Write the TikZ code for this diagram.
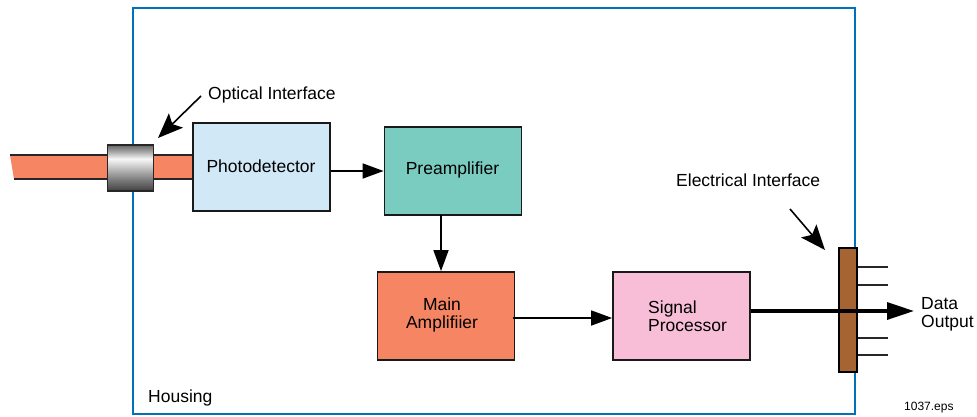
\documentclass[tikz,border=0pt]{standalone}
\usepackage{fontspec}
\setmainfont{Liberation Sans}
\usetikzlibrary{arrows.meta}
\definecolor{housingblue}{RGB}{0,114,188}
\definecolor{fiberorange}{RGB}{246,133,100}
\definecolor{pdblue}{RGB}{209,232,247}
\definecolor{preteal}{RGB}{122,204,193}
\definecolor{sigpink}{RGB}{248,190,215}
\definecolor{padbrown}{RGB}{166,100,50}
\pgfdeclareverticalshading{connshade}{100bp}{
  color(0bp)=(black!70);
  color(25bp)=(black!75);
  color(38bp)=(black!50);
  color(60bp)=(black!3);
  color(68bp)=(black!35);
  color(75bp)=(black!60);
  color(100bp)=(black!60)}
\tikzset{
  box/.style={draw=black!90,line width=1.8pt,minimum width=137pt,minimum height=88pt,inner sep=0pt,align=center,font=\fontsize{17.5pt}{18pt}\selectfont},
  lbl/.style={inner sep=0pt,font=\fontsize{17.5pt}{18pt}\selectfont},
  flow/.style={draw=black,line width=1.7pt,-{Triangle[length=21pt,width=15pt]}},
  bigptr/.style={draw=black,line width=1.6pt,-{Stealth[length=25pt,width=20pt,inset=5pt]}},
  pin/.style={draw=black!85,line width=1.5pt}
}
\begin{document}
\begin{tikzpicture}[x=1pt,y=-1pt]
\useasboundingbox (0,0) rectangle (977,416);
\node[draw=housingblue,line width=2pt,minimum width=722pt,minimum height=406pt,inner sep=0pt] (housing) at (494,211) {};
\coordinate (fibreTL) at (10,155);
\coordinate (fibreBL) at (14,179);
\node[box] (pd) at (261.5,167) {};
\path[fill=fiberorange] (fibreTL) -- (fibreTL -| pd.west) -- (fibreBL -| pd.west) -- (fibreBL) -- cycle;
\draw[line width=1.6pt,black!85] (fibreTL) -- (fibreTL -| pd.west) (fibreBL) -- (fibreBL -| pd.west);
\node[box,fill=pdblue] at (pd) {};
\node[lbl] (pdt) at (261,166) {Photodetector};
\node[draw=black!85,line width=1.6pt,minimum width=46pt,minimum height=46pt,inner sep=0pt,shading=connshade] (conn) at (130.5,168) {};
\node[box,fill=preteal] (pre) at (453,171) {};
\node[lbl] (pret) at (452.5,170) {Preamplifier};
\node[box,fill=fiberorange] (main) at (446,316) {};
\node[lbl,align=center] (maint) at (442,315) {Main\\Amplifiier};
\node[box,fill=sigpink] (sig) at (681.5,316) {};
\node[lbl,align=left,anchor=west] (sigt) at (648,316) {Signal\\Processor};
\node[draw=black,line width=1.8pt,fill=padbrown,minimum width=18pt,minimum height=124pt,inner sep=0pt] (pad) at (848,310) {};
\foreach \n/\y in {a/267,b/285,c/338,d/355}{
  \coordinate (pin\n) at (888,\y);
  \draw[pin] (pad.east |- pin\n) -- (pin\n);
}
\node[lbl,anchor=west] (oi) at (208,95) {Optical Interface};
\node[lbl,anchor=west] (ei) at (676,180) {Electrical Interface};
\node[lbl,anchor=west] (hs) at (148,398) {Housing};
\node[lbl,anchor=north west,align=left] (out) at (921,297) {Data\\Output};
\node[inner sep=0pt,anchor=west,font=\fontsize{12pt}{14pt}\selectfont] (eps) at (904,408) {1037.eps};
\draw[flow] (pd.east |- pre.west) -- (pre.west);
\coordinate (preDown) at (441,215);
\draw[flow] (preDown) -- (preDown |- main.north);
\draw[flow] ([xshift=-2pt]main.east |- 0,318) -- (sig.west |- 0,318);
\coordinate (outTip) at (914,311);
\draw[draw=black,line width=3.4pt,-{Triangle[length=27pt,width=17pt]}] (sig.east |- outTip) -- (outTip);
\coordinate (oiStart) at (201,96);
\coordinate (oiTip) at (158,138);
\draw[bigptr] (oiStart) -- (oiTip);
\coordinate (eiStart) at (790,209);
\coordinate (eiTip) at (825,250);
\draw[bigptr] (eiStart) -- (eiTip);
\end{tikzpicture}
\end{document}
